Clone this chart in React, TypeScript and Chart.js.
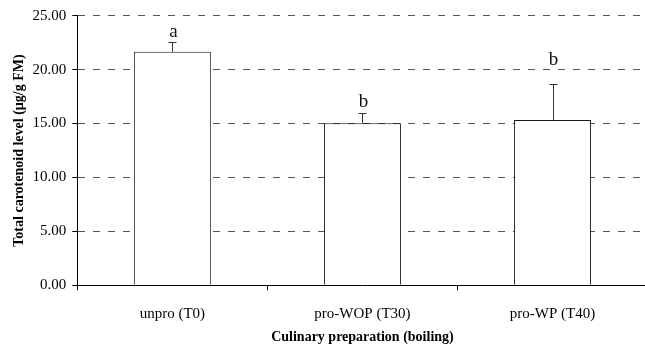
import React, { useEffect, useRef } from "react";
import { Chart, registerables } from "chart.js";

Chart.register(...registerables);

const categories = ["unpro (T0)", "pro-WOP (T30)", "pro-WP (T40)"];
const means = [21.65, 15.03, 15.33];
const errors = [0.91, 0.92, 3.37];
const letters = ["a", "b", "b"];
const letterLevels = [23.5, 17.03, 20.9];
const yTicks = [0, 5, 10, 15, 20, 25];

const FONT = "'Liberation Serif', 'Times New Roman', serif";

const annotPlugin = {
  id: "annot",
  afterDatasetsDraw(chart: any) {
    const ctx = chart.ctx;
    const meta = chart.getDatasetMeta(0);
    const y = chart.scales.y;
    ctx.save();
    meta.data.forEach((bar: any, i: number) => {
      const x = Math.round(bar.x) + 0.5;
      const yTop = y.getPixelForValue(means[i]);
      const yErr = Math.round(y.getPixelForValue(means[i] + errors[i])) + 0.5;
      ctx.strokeStyle = "#333";
      ctx.lineWidth = 1;
      ctx.beginPath();
      ctx.moveTo(x, yTop);
      ctx.lineTo(x, yErr);
      ctx.moveTo(x - 4, yErr);
      ctx.lineTo(x + 4, yErr);
      ctx.stroke();
      ctx.fillStyle = "#111";
      ctx.font = `19px ${FONT}`;
      ctx.textAlign = "center";
      ctx.textBaseline = "middle";
      ctx.fillText(letters[i], bar.x + 1, y.getPixelForValue(letterLevels[i]));
    });
    ctx.restore();
  },
};

export default function App() {
  const ref = useRef<HTMLCanvasElement>(null);
  useEffect(() => {
    if (!ref.current) return;
    const chart = new Chart(ref.current, {
      type: "bar",
      data: {
        labels: categories,
        datasets: [
          {
            data: means,
            backgroundColor: "#ffffff",
            borderColor: "#1a1a1a",
            borderWidth: 1,
            categoryPercentage: 1,
            barPercentage: 0.405,
          },
        ],
      },
      options: {
        animation: false,
        responsive: false,
        devicePixelRatio: 1,
        layout: { padding: { top: 15.7, right: 12.4, left: 0, bottom: 0 } },
        plugins: { legend: { display: false }, tooltip: { enabled: false } },
        scales: {
          x: {
            afterFit: (s: any) => {
              s.height = 61.7;
            },
            grid: {
              offset: true,
              drawOnChartArea: false,
              drawTicks: true,
              tickLength: 5,
              tickColor: "#000",
            },
            border: { display: true, color: "#000", width: 1 },
            ticks: {
              color: "#000",
              padding: 15,
              font: { family: FONT, size: 15 },
            },
            title: {
              display: true,
              text: "Culinary preparation (boiling)",
              color: "#000",
              font: { family: FONT, size: 14, weight: "bold" },
              padding: { top: 0, bottom: 1 },
            },
          },
          y: {
            min: 0,
            max: 25,
            afterFit: (s: any) => {
              s.width = 77.3;
            },
            afterBuildTicks: (s: any) => {
              s.ticks = yTicks.map((v) => ({ value: v }));
            },
            grid: {
              color: (c: any) => (c.tick && c.tick.value === 0 ? "rgba(0,0,0,0)" : "#555"),
              drawTicks: true,
              tickLength: 5,
              tickColor: "#000",
            },
            border: { display: true, color: "#000", width: 1, dash: [7, 8] },
            ticks: {
              color: "#000",
              padding: 6,
              font: { family: FONT, size: 15 },
              callback: (v: any) => Number(v).toFixed(2),
            },
            title: {
              display: true,
              text: "Total carotenoid level (µg/g FM)",
              color: "#000",
              font: { family: FONT, size: 14, weight: "bold" },
              padding: { top: 11, bottom: 0 },
            },
          },
        },
      },
      plugins: [annotPlugin],
    });
    return () => chart.destroy();
  }, []);
  return (
    <div
      style={{
        position: "fixed",
        left: 0,
        top: 0,
        width: 645,
        height: 347,
        overflow: "hidden",
        background: "#fff",
      }}
    >
      <canvas ref={ref} width={660} height={347} style={{ display: "block" }} />
    </div>
  );
}
